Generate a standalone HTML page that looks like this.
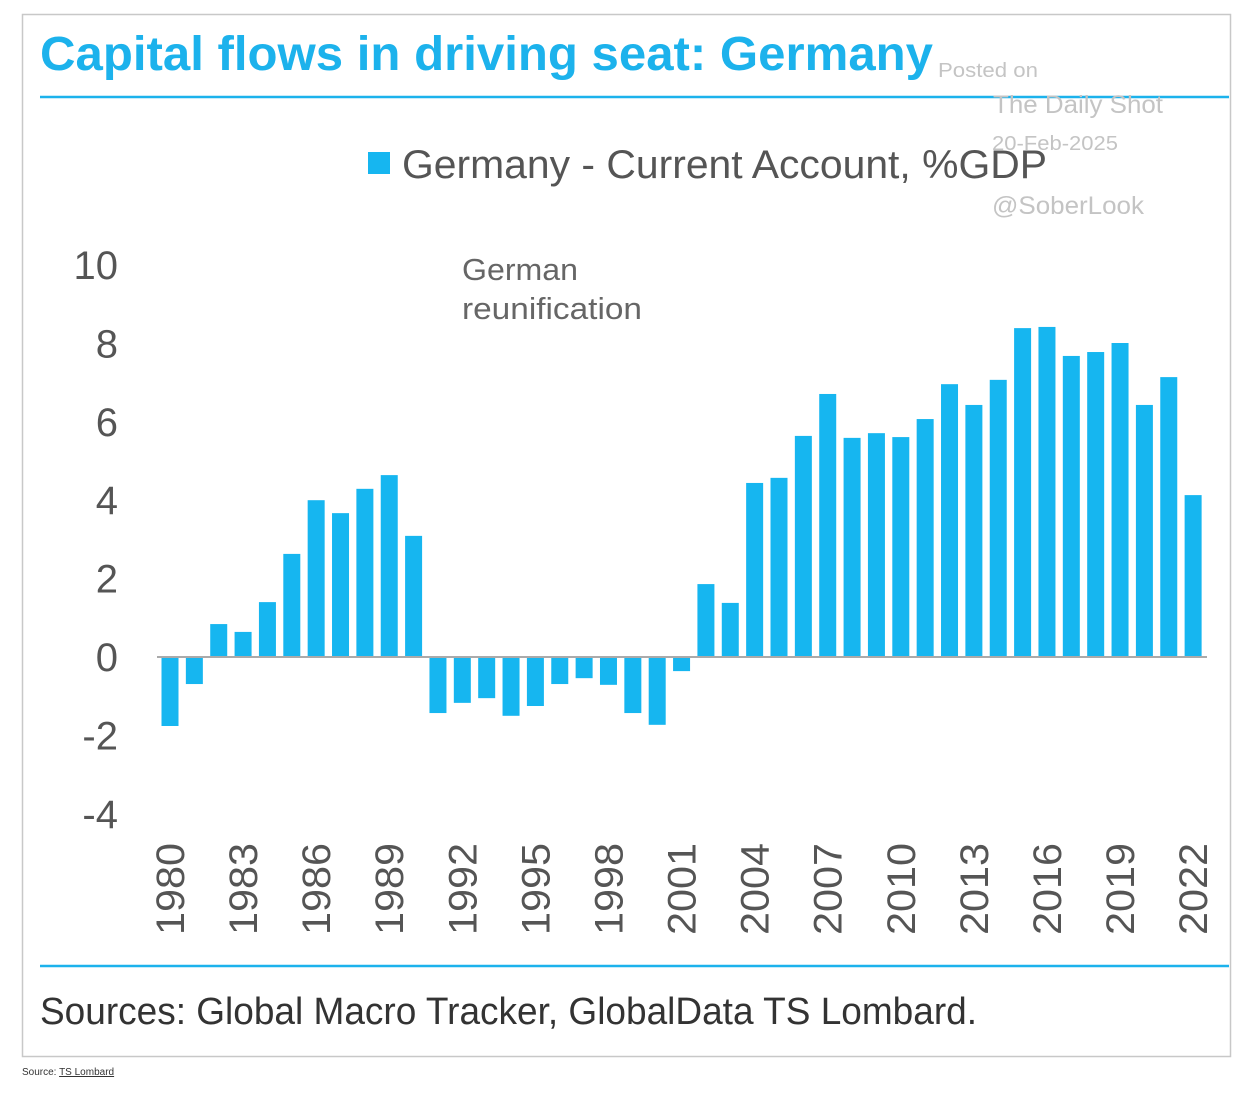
<!DOCTYPE html>
<html><head><meta charset="utf-8"><style>
html,body{margin:0;padding:0;background:#fff;}
svg{display:block;font-family:"Liberation Sans",sans-serif;}
</style></head><body>
<svg id="chart" width="1246" height="1102" viewBox="0 0 1246 1102">
<rect x="22.5" y="14.5" width="1208" height="1042" fill="#fff" stroke="#c8c8c8" stroke-width="1.5"/>
<text x="40" y="70" font-size="48" font-weight="bold" fill="#1cb2ec" textLength="893" lengthAdjust="spacingAndGlyphs">Capital flows in driving seat: Germany</text>
<line x1="40" y1="97" x2="1229" y2="97" stroke="#1cb2ec" stroke-width="2.5"/>
<rect x="368" y="152" width="22" height="22" fill="#16b6f0"/>
<text x="402" y="178" font-size="40" fill="#555" textLength="645" lengthAdjust="spacingAndGlyphs">Germany - Current Account, %GDP</text>
<g fill="#c4c4c4">
<text x="938" y="77" font-size="20" textLength="100" lengthAdjust="spacingAndGlyphs">Posted on</text>
<text x="993" y="113" font-size="25" textLength="170" lengthAdjust="spacingAndGlyphs">The Daily Shot</text>
<text x="992" y="150" font-size="20" textLength="126" lengthAdjust="spacingAndGlyphs">20-Feb-2025</text>
<text x="992" y="214" font-size="25" textLength="152" lengthAdjust="spacingAndGlyphs">@SoberLook</text>
</g>
<text font-size="31" fill="#666"><tspan x="462" y="280" textLength="116" lengthAdjust="spacingAndGlyphs">German</tspan><tspan x="462" y="319" textLength="180" lengthAdjust="spacingAndGlyphs">reunification</tspan></text>
<g id="yaxis"></g>
<g id="bars"></g>
<g id="xaxis"></g>
<line x1="40" y1="966" x2="1229" y2="966" stroke="#1cb2ec" stroke-width="2.5"/>
<text x="40" y="1024" font-size="38" fill="#333" textLength="937" lengthAdjust="spacingAndGlyphs">Sources: Global Macro Tracker, GlobalData TS Lombard.</text>
<text x="22" y="1075" font-size="10" fill="#333">Source: <tspan text-decoration="underline">TS Lombard</tspan></text>
</svg>
<script>
const years = [];
for (let y = 1980; y <= 2022; y++) years.push(y);
const values = [-1.76,-0.69,0.84,0.64,1.4,2.63,4.0,3.67,4.29,4.64,3.09,-1.43,-1.17,-1.05,-1.5,-1.25,-0.69,-0.54,-0.71,-1.43,-1.73,-0.36,1.86,1.38,4.44,4.57,5.64,6.71,5.59,5.71,5.61,6.07,6.96,6.43,7.07,8.39,8.42,7.68,7.78,8.01,6.43,7.14,4.13];
const yTicks = [10,8,6,4,2,0,-2,-4];
const xLabels = [1980,1983,1986,1989,1992,1995,1998,2001,2004,2007,2010,2013,2016,2019,2022];

const NS = "http://www.w3.org/2000/svg";
const yScale = v => 657 - v * 39.2;
const xScale = i => 170 + i * 24.36;
const bw = 17;

const ya = document.getElementById('yaxis');
yTicks.forEach(t => {
  const el = document.createElementNS(NS, 'text');
  
  
  el.setAttribute('x', 118);
  el.setAttribute('y', yScale(t) + 14);
  el.setAttribute('text-anchor', 'end');
  el.setAttribute('font-size', '40');
  el.setAttribute('fill', '#555');
  el.textContent = t;
  ya.appendChild(el);
});

const bg = document.getElementById('bars');
values.forEach((v, i) => {
  const r = document.createElementNS(NS, 'rect');
  
  
  const y0 = yScale(0), y1 = yScale(v);
  r.setAttribute('x', xScale(i) - bw / 2);
  r.setAttribute('y', Math.min(y0, y1));
  r.setAttribute('width', bw);
  r.setAttribute('height', Math.abs(y1 - y0));
  r.setAttribute('fill', '#16b6f0');
  bg.appendChild(r);
});
const zl = document.createElementNS(NS, 'line');


zl.setAttribute('x1', 157); zl.setAttribute('x2', 1207);
zl.setAttribute('y1', yScale(0)); zl.setAttribute('y2', yScale(0));
zl.setAttribute('stroke', '#aaa'); zl.setAttribute('stroke-width', '2');
bg.appendChild(zl);

const xa = document.getElementById('xaxis');
xLabels.forEach(yr => {
  const i = years.indexOf(yr);
  const el = document.createElementNS(NS, 'text');
  
  
  const x = xScale(i) + 14;
  el.setAttribute('transform', 'translate(' + x + ',935) rotate(-90)');
  el.setAttribute('font-size', '40');
  el.setAttribute('fill', '#555');
  el.setAttribute('textLength', '92');
  el.setAttribute('lengthAdjust', 'spacingAndGlyphs');
  el.textContent = yr;
  xa.appendChild(el);
});
</script>
</body></html>
